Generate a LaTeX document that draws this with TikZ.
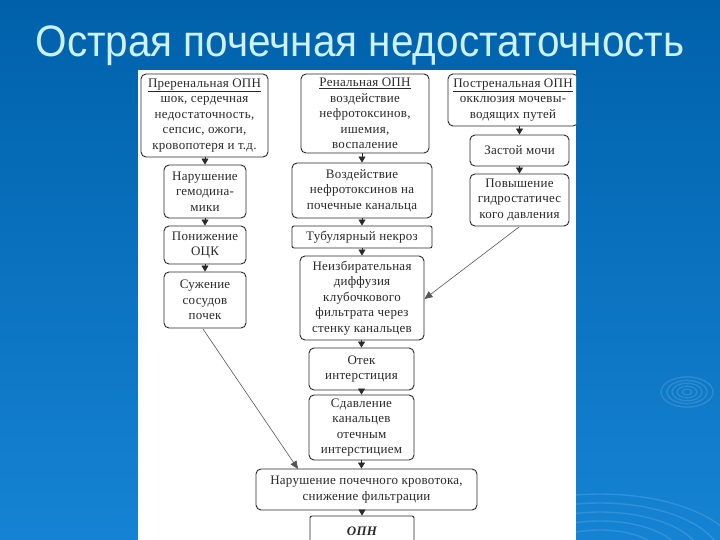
\documentclass[tikz,border=0pt]{standalone}
\usepackage{fontspec}
\setmainfont[LetterSpace=2]{Liberation Serif}
\newfontfamily\titlefont{Liberation Sans}
\usetikzlibrary{arrows.meta}
\definecolor{bgtop}{HTML}{0061AB}
\definecolor{bgbot}{HTML}{1583D3}
\definecolor{titlecol}{HTML}{CCF2FF}
\definecolor{ink}{HTML}{2A2A2A}
\tikzset{
  box/.style={draw=ink, line width=0.9pt, rounded corners=5pt, fill=white,
    align=center, inner sep=0pt, text=ink,
    font=\fontsize{13}{15.5}\selectfont},
  flow/.style={draw=ink, line width=0.8pt, -{Triangle[width=7pt,length=6pt]}},
  diag/.style={draw=ink!80, line width=0.6pt, -{Triangle[width=7pt,length=8pt]}},
  ripple/.style={draw=white, opacity=0.13, line width=1.4pt}
}
\begin{document}
\begin{tikzpicture}[x=1pt,y=-1pt]
\useasboundingbox (0,0) rectangle (720,540);
\shade[top color=bgtop, bottom color=bgbot] (0,0) rectangle (720,540);
% ripples
\foreach \r in {5,10,15,20,26}
  \draw[ripple] (687,392) ellipse ({\r} and {\r*0.58});
\foreach \r in {40,52,64,76,88}
  \draw[ripple] (600,560) ellipse ({\r*1.6} and {\r*0.75});
\node[text=titlecol, font=\titlefont\fontsize{44}{48}\selectfont] (title) at (360,46)
  {\scalebox{0.92}[1]{Острая почечная недостаточность}};
% panel
\fill[white] (138,70) rectangle (576,540);
\begin{scope}
\clip (138,70) rectangle (576,540);
% left column
\node[box, minimum width=127, minimum height=83] (pre) at (204.5,115.5)
  {\underline{Преренальная ОПН}\\шок, сердечная\\недостаточность,\\сепсис, ожоги,\\кровопотеря и т.д.};
\node[box, minimum width=82, minimum height=53] (gem) at (205,191.5)
  {Нарушение\\гемодина-\\мики};
\node[box, minimum width=82, minimum height=38] (ock) at (205,245)
  {Понижение\\ОЦК};
\node[box, minimum width=82, minimum height=56] (suz) at (205,300)
  {Сужение\\сосудов\\почек};
% middle column
\node[box, minimum width=128, minimum height=79] (ren) at (365,113.5)
  {\underline{Ренальная ОПН}\\воздействие\\нефротоксинов,\\ишемия,\\воспаление};
\node[box, minimum width=140, minimum height=55] (vozd) at (362,190.5)
  {Воздействие\\нефротоксинов на\\почечные канальца};
\node[box, minimum width=140, minimum height=22, rounded corners=2pt] (tub) at (362,237)
  {Тубулярный некроз};
\node[box, minimum width=124, minimum height=84] (neiz) at (362,298)
  {Неизбирательная\\диффузия\\клубочкового\\фильтрата через\\стенку канальцев};
\node[box, minimum width=105, minimum height=42] (otek) at (361.5,369)
  {Отек\\интерстиция};
\node[box, minimum width=105, minimum height=65] (sdav) at (361.5,427.5)
  {Сдавление\\канальцев\\отечным\\интерстицием};
\node[box, minimum width=221, minimum height=41] (nar) at (366.5,489.5)
  {Нарушение почечного кровотока,\\снижение фильтрации};
\node[box, minimum width=104, minimum height=30, rounded corners=2pt,
  font=\fontsize{13}{15}\selectfont\bfseries\itshape] (opn) at (362,531)
  {ОПН};
% right column
\node[box, minimum width=130, minimum height=52] (post) at (513,100)
  {\underline{Постренальная ОПН}\\окклюзия мочевы-\\водящих путей};
\node[box, minimum width=99, minimum height=31] (zast) at (519.5,150.5)
  {Застой мочи};
\node[box, minimum width=99, minimum height=52] (pov) at (519.5,200)
  {Повышение\\гидростатичес\\кого давления};
% vertical arrows
\draw[flow] (pre.south -| gem.north) -- (gem.north);
\draw[flow] (gem) -- (ock);
\draw[flow] (ock) -- (suz);
\draw[flow] (ren.south -| vozd.north) -- (vozd.north);
\draw[flow] (vozd) -- (tub);
\draw[flow] (tub) -- (neiz);
\draw[flow] (neiz.south -| otek.north) -- (otek.north);
\draw[flow] (otek) -- (sdav);
\draw[flow] (sdav.south) -- (sdav.south |- nar.north);
\draw[flow] (nar.south -| opn.north) -- (opn.north);
\draw[flow] (post.south -| zast.north) -- (zast.north);
\draw[flow] (zast) -- (pov);
% diagonal connectors
\coordinate (s1) at (203,329);
\coordinate (e1) at (298,469);
\draw[diag] (s1) -- (e1);
\coordinate (s2) at (519,227);
\coordinate (e2) at ([yshift=-1pt]neiz.east);
\draw[diag] (s2) -- (e2);
\end{scope}
\end{tikzpicture}
\end{document}
